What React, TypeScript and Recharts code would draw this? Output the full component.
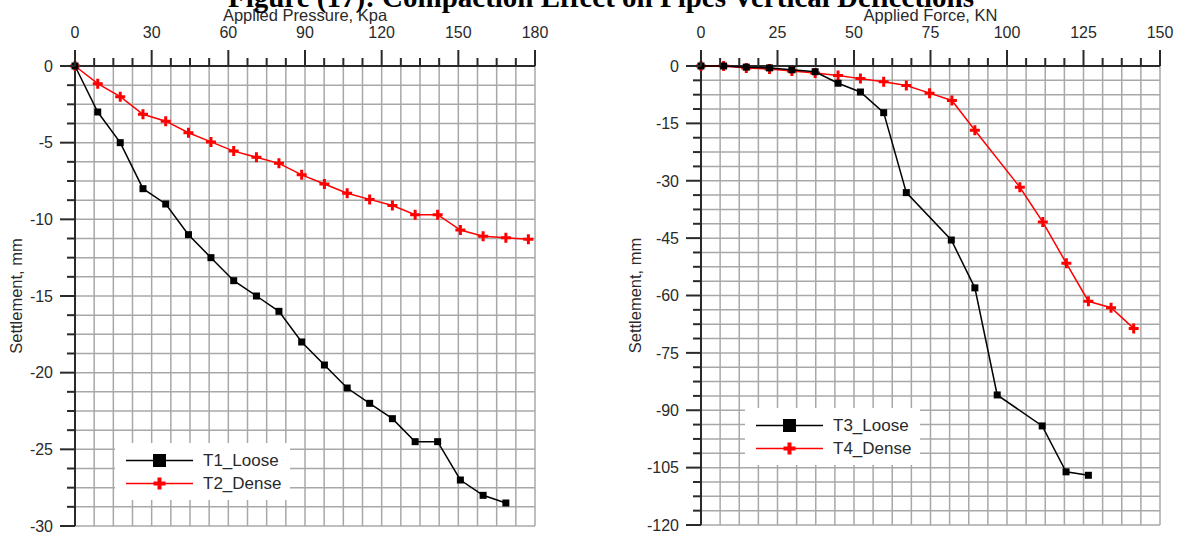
import { ScatterChart, Scatter, XAxis, YAxis, CartesianGrid, Legend } from 'recharts';

// left plot: applied pressure (kPa) vs settlement (mm)
const pressureT1 = [0, 8.9, 17.7, 26.6, 35.5, 44.4, 53.2, 62.1, 71.0, 79.8, 88.7, 97.6, 106.5, 115.3, 124.2, 133.1, 141.9, 150.8, 159.7, 168.6];
const settlementT1 = [0, -3, -5, -8, -9, -11, -12.5, -14, -15, -16, -18, -19.5, -21, -22, -23, -24.5, -24.5, -27, -28, -28.5];
const pressureT2 = [0, 8.9, 17.7, 26.6, 35.5, 44.4, 53.2, 62.1, 71.0, 79.8, 88.7, 97.6, 106.5, 115.3, 124.2, 133.1, 141.9, 150.8, 159.7, 168.6, 177.4];
const settlementT2 = [0, -1.15, -2, -3.15, -3.6, -4.35, -4.95, -5.55, -5.95, -6.35, -7.1, -7.7, -8.3, -8.7, -9.1, -9.7, -9.7, -10.7, -11.1, -11.2, -11.3];

// right plot: applied force (kN) vs settlement (mm)
const forceT3 = [0, 7.4, 14.8, 22.4, 29.7, 37.3, 44.8, 52.1, 59.7, 67.1, 81.8, 89.5, 96.8, 111.5, 119.3, 126.6];
const settlementT3 = [0, 0, -0.3, -0.5, -1, -1.5, -4.5, -6.8, -12.2, -33.1, -45.5, -58, -86, -94.1, -106.1, -107];
const forceT4 = [0, 7.4, 14.8, 22.4, 29.7, 37.3, 44.8, 52.1, 59.7, 67.1, 74.7, 82.0, 89.5, 104.2, 111.7, 119.4, 126.6, 134.0, 141.4];
const settlementT4 = [0, 0, -0.5, -0.8, -1.3, -1.8, -2.5, -3.3, -4.1, -5.1, -7.1, -9, -16.8, -31.7, -40.8, -51.6, -61.5, -63.2, -68.6];

const SANS = '"Liberation Sans", Arial, sans-serif';
const INK = '#2a2a2a';
const GRID = '#a8a8a8';

const zip = (xs: number[], ys: number[]) => xs.map((x, i) => ({ x, y: ys[i] }));

// tick positions incl. minor ones (grid drawn on every one)
const steps = (from: number, to: number, step: number) => {
  const out: number[] = [];
  for (let v = from; v <= to + 1e-9; v += step) out.push(Math.round(v * 100) / 100);
  return out;
};

const isMajor = (v: number, major: number) => Math.abs(v % major) < 1e-6;

const textStyle = { fontFamily: SANS, fontSize: 16, fill: INK };

const makeTopTick = (major: number) => (props: any) => {
  const { x, y, payload } = props;
  const big = isMajor(payload.value, major);
  return (
    <g>
      <line x1={x} x2={x} y1={y} y2={y - (big ? 16 : 8)} stroke={INK} strokeWidth={2} />
      {big && (
        <text x={x} y={y - 28} textAnchor="middle" style={textStyle}>
          {payload.value}
        </text>
      )}
    </g>
  );
};

const makeLeftTick = (major: number) => (props: any) => {
  const { x, y, payload } = props;
  const big = isMajor(payload.value, major);
  return (
    <g>
      <line x1={x} x2={x - (big ? 15 : 8)} y1={y} y2={y} stroke={INK} strokeWidth={2} />
      {big && (
        <text x={x - 22} y={y} dy="0.36em" textAnchor="end" style={textStyle}>
          {payload.value}
        </text>
      )}
    </g>
  );
};

const xTitle = (text: string) => (props: any) => {
  const vb = props.viewBox;
  return (
    <text x={vb.x + vb.width / 2} y={21} textAnchor="middle" style={{ ...textStyle, fontSize: 16.5 }}>
      {text}
    </text>
  );
};

const yTitle = (text: string, cx: number) => (props: any) => {
  const vb = props.viewBox;
  const cy = vb.y + vb.height / 2;
  return (
    <text
      x={cx}
      y={cy}
      dy="0.36em"
      transform={`rotate(-90 ${cx} ${cy})`}
      textAnchor="middle"
      style={{ ...textStyle, fontSize: 16.5 }}
    >
      {text}
    </text>
  );
};

const Square = (props: any) => {
  const { cx, cy } = props;
  return <rect x={cx - 3.5} y={cy - 3.5} width={7} height={7} fill="#000" />;
};

const Plus = (props: any) => {
  const { cx, cy } = props;
  return <path d={`M${cx - 5},${cy}H${cx + 5}M${cx},${cy - 5}V${cy + 5}`} stroke="#ff0000" strokeWidth={3} />;
};

const legendBox = (loose: string, dense: string) => () => (
  <div style={{ background: '#fff', width: 175, height: 57, paddingTop: 6, boxSizing: 'border-box', fontFamily: SANS, fontSize: 17, color: INK }}>
    {[loose, dense].map((name, i) => (
      <div key={name} style={{ display: 'flex', alignItems: 'center', height: 23 }}>
        <svg width={88} height={23}>
          <line x1={11} x2={78} y1={11.5} y2={11.5} stroke={i === 0 ? '#000' : '#ff0000'} strokeWidth={1.5} />
          {i === 0 ? (
            <rect x={38} y={5} width={13} height={13} fill="#000" />
          ) : (
            <path d="M38.5,11.5H50.5M44.5,5.5V17.5" stroke="#ff0000" strokeWidth={4} />
          )}
        </svg>
        <span>{name}</span>
      </div>
    ))}
  </div>
);

interface PanelProps {
  left: number;
  width: number;
  yAxisWidth: number;
  bottom: number;
  xMax: number;
  xMinor: number;
  xMajor: number;
  yMin: number;
  yMinor: number;
  yMajor: number;
  xLabel: string;
  yLabelX: number;
  loose: { name: string; data: { x: number; y: number }[] };
  dense: { name: string; data: { x: number; y: number }[] };
  legendPos: { left: number; top: number };
}

function Panel(p: PanelProps) {
  return (
    <div style={{ position: 'absolute', left: p.left, top: 0 }}>
      <ScatterChart width={p.width} height={533} margin={{ top: 0, right: 25, bottom: p.bottom, left: 0 }}>
        <CartesianGrid stroke={GRID} strokeWidth={1.5} />
        <XAxis
          type="number"
          dataKey="x"
          orientation="top"
          height={66}
          domain={[0, p.xMax]}
          ticks={steps(0, p.xMax, p.xMinor)}
          interval={0}
          tickSize={0}
          tickMargin={0}
          tick={makeTopTick(p.xMajor)}
          axisLine={{ stroke: INK, strokeWidth: 2 }}
          label={{ content: xTitle(p.xLabel) }}
        />
        <YAxis
          type="number"
          dataKey="y"
          width={p.yAxisWidth}
          domain={[p.yMin, 0]}
          ticks={steps(p.yMin, 0, p.yMinor)}
          interval={0}
          tickSize={0}
          tickMargin={0}
          tick={makeLeftTick(p.yMajor)}
          axisLine={{ stroke: INK, strokeWidth: 2 }}
          label={{ content: yTitle('Settlement, mm', p.yLabelX) }}
        />
        <Legend
          layout="vertical"
          align="center"
          verticalAlign="middle"
          wrapperStyle={{ left: p.legendPos.left, top: p.legendPos.top, width: 175, height: 57 }}
          content={legendBox(p.loose.name, p.dense.name)}
        />
        <Scatter
          name={p.dense.name}
          data={p.dense.data}
          line={{ stroke: '#ff0000', strokeWidth: 1.5 }}
          shape={Plus}
          isAnimationActive={false}
        />
        <Scatter
          name={p.loose.name}
          data={p.loose.data}
          line={{ stroke: '#000', strokeWidth: 1.5 }}
          shape={Square}
          isAnimationActive={false}
        />
      </ScatterChart>
    </div>
  );
}

export default function App() {
  return (
    <div style={{ position: 'absolute', left: 0, top: 0, width: 1185, height: 533, background: '#fff', overflow: 'hidden' }}>
      <Panel
        left={0}
        width={560}
        yAxisWidth={75}
        bottom={7}
        xMax={180}
        xMinor={7.5}
        xMajor={30}
        yMin={-30}
        yMinor={1.25}
        yMajor={5}
        xLabel="Applied Pressure, Kpa"
        yLabelX={16}
        loose={{ name: 'T1_Loose', data: zip(pressureT1, settlementT1) }}
        dense={{ name: 'T2_Dense', data: zip(pressureT2, settlementT2) }}
        legendPos={{ left: 115, top: 443 }}
      />
      <Panel
        left={620}
        width={565}
        yAxisWidth={81}
        bottom={8}
        xMax={150}
        xMinor={6.25}
        xMajor={25}
        yMin={-120}
        yMinor={3.75}
        yMajor={15}
        xLabel="Applied Force, KN"
        yLabelX={15}
        loose={{ name: 'T3_Loose', data: zip(forceT3, settlementT3) }}
        dense={{ name: 'T4_Dense', data: zip(forceT4, settlementT4) }}
        legendPos={{ left: 125, top: 408 }}
      />
      <div
        style={{
          position: 'absolute',
          left: 0,
          width: 1202,
          top: -17,
          lineHeight: '28px',
          textAlign: 'center',
          fontFamily: '"Liberation Serif", "Times New Roman", serif',
          fontWeight: 'bold',
          fontSize: 29,
          color: '#000',
          whiteSpace: 'nowrap',
        }}
      >
        Figure (17): Compaction Effect on Pipes Vertical Deflections
      </div>
    </div>
  );
}
